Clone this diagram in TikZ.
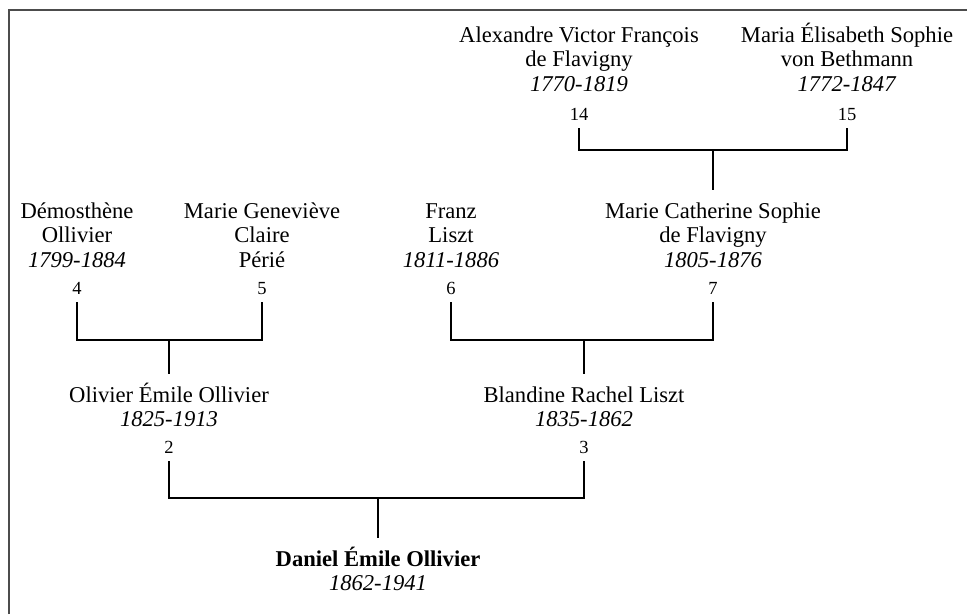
\documentclass[tikz,border=0pt]{standalone}
\usepackage{fontspec}
\setmainfont{Liberation Serif}
\newcommand{\tstrut}{\rule{0pt}{20pt}}

\begin{document}
\begin{tikzpicture}[x=1pt,y=-1pt,every path/.style={line width=1.2pt},
  person/.style={align=center,anchor=north,inner sep=0pt,outer ysep=8pt,font=\fontsize{22.6}{24.5}\selectfont},
  num/.style={anchor=base,inner sep=0pt,outer ysep=8pt,font=\fontsize{18.5}{20}\selectfont}]
\useasboundingbox (0,0) rectangle (967,614);
\draw[black!70,line width=1.6pt] (9,614) |- (967,10);
% great-grandparents
\node[person] (p14) at (579,14) {\tstrut Alexandre Victor François\\de Flavigny\\\textit{1770-1819}};
\node[person] (p15) at (847,14) {\tstrut Maria Élisabeth Sophie\\von Bethmann\\\textit{1772-1847}};
\node[num] (n14) at (579,120) {14};
\node[num] (n15) at (847,120) {15};
% grandparents
\node[person] (p4) at (77,190) {\tstrut Démosthène\\Ollivier\\\textit{1799-1884}};
\node[person] (p5) at (262,190) {\tstrut Marie Geneviève\\Claire\\Périé};
\node[person] (p6) at (451,190) {\tstrut Franz\\Liszt\\\textit{1811-1886}};
\node[person] (p7) at (713,190) {\tstrut Marie Catherine Sophie\\de Flavigny\\\textit{1805-1876}};
\node[num] (n4) at (77,294) {4};
\node[num] (n5) at (262,294) {5};
\node[num] (n6) at (451,294) {6};
\node[num] (n7) at (713,294) {7};
% parents
\node[person] (p2) at (169,374) {\tstrut Olivier Émile Ollivier\\\textit{1825-1913}};
\node[person] (p3) at (584,374) {\tstrut Blandine Rachel Liszt\\\textit{1835-1862}};
\node[num] (n2) at (169,453) {2};
\node[num] (n3) at (584,453) {3};
% root
\node[person] (p1) at (378,538) {\tstrut\textbf{Daniel Émile Ollivier}\\\textit{1862-1941}};
% joints on the bars
\coordinate (j7) at (713,150);
\coordinate (j2) at (169,340);
\coordinate (j3) at (584,340);
\coordinate (j1) at (378,498);
\draw (n14) |- (j7) -| (n15);
\draw (j7) -- (p7);
\draw (n4) |- (j2) -| (n5);
\draw (j2) -- (p2);
\draw (n6) |- (j3) -| (n7);
\draw (j3) -- (p3);
\draw (n2) |- (j1) -| (n3);
\draw (j1) -- (p1);
\end{tikzpicture}
\end{document}
